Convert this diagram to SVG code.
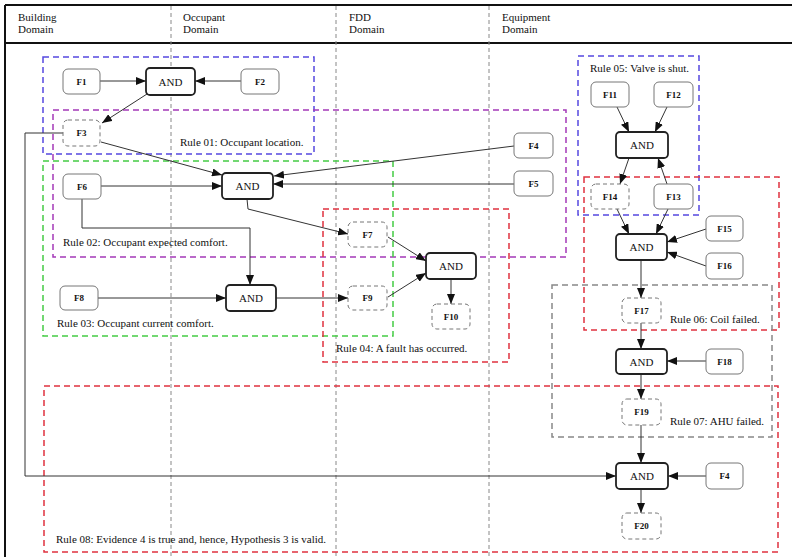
<svg xmlns="http://www.w3.org/2000/svg" width="792" height="557" viewBox="0 0 792 557">
<defs>
<marker id="arr" viewBox="0 0 10 8" refX="10" refY="4" markerWidth="10" markerHeight="8" markerUnits="userSpaceOnUse" orient="auto">
<path d="M0,0 L10,4 L0,8 z" fill="#111"/>
</marker>
</defs>
<style>
text{font-family:"Liberation Serif","Times New Roman",serif;fill:#111}
.hdr{font-size:11px}
.rl{font-size:11px}
.fl{font-size:9px;font-weight:bold;text-anchor:middle}
.al{font-size:11px;text-anchor:middle}
.fact{fill:#fff;stroke:#777;stroke-width:1}
.der{fill:#fff;stroke:#777;stroke-width:1;stroke-dasharray:4 3}
.and{fill:#fff;stroke:#222;stroke-width:1.8}
.lane{stroke:#888;stroke-width:1;stroke-dasharray:4 3;fill:none}
.rule{fill:none;stroke-width:1.5;stroke-dasharray:6 4}
.blue{stroke:#5548e0}
.purple{stroke:#a438b8}
.green{stroke:#44cc44}
.red{stroke:#e0323f}
.gray{stroke:#888}
.cn{fill:none;stroke:#333;stroke-width:1;marker-end:url(#arr)}
.cp{fill:none;stroke:#333;stroke-width:1}
</style>
<rect x="0" y="0" width="792" height="557" fill="#fff"/>
<g id="frame">
<line x1="5" y1="5" x2="792" y2="5" stroke="#111" stroke-width="2"/>
<line x1="5" y1="43" x2="792" y2="43" stroke="#111" stroke-width="2"/>
<line x1="5" y1="5" x2="5" y2="557" stroke="#111" stroke-width="2"/>
<line class="lane" x1="171" y1="6" x2="171" y2="557"/>
<line class="lane" x1="336" y1="6" x2="336" y2="557"/>
<line class="lane" x1="489" y1="6" x2="489" y2="557"/>
<text class="hdr" x="18" y="21">Building</text>
<text class="hdr" x="18" y="33">Domain</text>
<text class="hdr" x="183" y="21">Occupant</text>
<text class="hdr" x="183" y="33">Domain</text>
<text class="hdr" x="349" y="21">FDD</text>
<text class="hdr" x="349" y="33">Domain</text>
<text class="hdr" x="502" y="21">Equipment</text>
<text class="hdr" x="502" y="33">Domain</text>
</g>
<g id="rules">
<rect class="rule blue" x="43" y="57" width="271" height="97"/>
<rect class="rule purple" x="53" y="110" width="513" height="147"/>
<rect class="rule green" x="43" y="161" width="350" height="175"/>
<rect class="rule red" x="323" y="209" width="186" height="153"/>
<rect class="rule blue" x="578" y="56" width="121" height="159"/>
<rect class="rule red" x="584" y="177" width="195" height="153"/>
<rect class="rule gray" x="552" y="285" width="220" height="152"/>
<rect class="rule red" x="44" y="386" width="734" height="166"/>
<text class="rl" x="180" y="146">Rule 01: Occupant location.</text>
<text class="rl" x="63" y="246">Rule 02: Occupant expected comfort.</text>
<text class="rl" x="57" y="327">Rule 03: Occupant current comfort.</text>
<text class="rl" x="336" y="352">Rule 04: A fault has occurred.</text>
<text class="rl" x="590" y="72">Rule 05: Valve is shut.</text>
<text class="rl" x="670" y="323">Rule 06: Coil failed.</text>
<text class="rl" x="670" y="425">Rule 07: AHU failed.</text>
<text class="rl" x="56" y="543">Rule 08: Evidence 4 is true and, hence, Hypothesis 3 is valid.</text>
</g>
<g id="connectors">
<line class="cn" x1="100" y1="81" x2="146" y2="81"/>
<line class="cn" x1="241" y1="81" x2="195" y2="81"/>
<line class="cn" x1="147" y1="94" x2="102" y2="123"/>
<line class="cn" x1="101" y1="142" x2="222" y2="175"/>
<line class="cn" x1="514" y1="146" x2="274" y2="176"/>
<line class="cn" x1="514" y1="184" x2="273" y2="184"/>
<line class="cn" x1="101" y1="186" x2="222" y2="186"/>
<polyline class="cn" points="247,199 248,209 348,234"/>
<polyline class="cn" points="82,199 82,228 250,228 250,285"/>
<line class="cn" x1="98" y1="298" x2="226" y2="298"/>
<line class="cn" x1="276" y1="298" x2="348" y2="298"/>
<line class="cn" x1="388" y1="237" x2="426" y2="261"/>
<line class="cn" x1="388" y1="297" x2="426" y2="273"/>
<line class="cn" x1="451" y1="279" x2="451" y2="304"/>
<line class="cn" x1="617" y1="107" x2="629" y2="132"/>
<line class="cn" x1="667" y1="107" x2="655" y2="132"/>
<line class="cn" x1="629" y1="158" x2="620" y2="184"/>
<line class="cn" x1="667" y1="184" x2="658" y2="158"/>
<line class="cn" x1="617" y1="209" x2="629" y2="234"/>
<line class="cn" x1="668" y1="209" x2="656" y2="234"/>
<line class="cn" x1="706" y1="229" x2="667" y2="242"/>
<line class="cn" x1="706" y1="266" x2="667" y2="252"/>
<line class="cn" x1="641" y1="260" x2="641" y2="298"/>
<line class="cn" x1="641" y1="323" x2="641" y2="349"/>
<line class="cn" x1="706" y1="361" x2="667" y2="361"/>
<line class="cn" x1="641" y1="374" x2="641" y2="399"/>
<line class="cn" x1="641" y1="425" x2="641" y2="463"/>
<line class="cn" x1="706" y1="476" x2="668" y2="476"/>
<line class="cn" x1="641" y1="489" x2="641" y2="513"/>
<polyline class="cn" points="63,133 25,133 25,476 616,476"/>
</g>
<g id="F1"><rect class="fact" x="63" y="69" width="37" height="25" rx="5"/><text class="fl" x="81.5" y="84.5">F1</text></g>
<g id="AND1"><rect class="and" x="146" y="68" width="49" height="27" rx="4"/><text class="al" x="170.5" y="85.5">AND</text></g>
<g id="F2"><rect class="fact" x="241" y="69" width="38" height="25" rx="5"/><text class="fl" x="260" y="84.5">F2</text></g>
<g id="F3"><rect class="der" x="63" y="120" width="37" height="26" rx="5"/><text class="fl" x="81.5" y="136">F3</text></g>
<g id="F4a"><rect class="fact" x="514" y="133" width="39" height="25" rx="5"/><text class="fl" x="533.5" y="148.5">F4</text></g>
<g id="F5"><rect class="fact" x="514" y="171" width="39" height="25" rx="5"/><text class="fl" x="533.5" y="186.5">F5</text></g>
<g id="F6"><rect class="fact" x="63" y="174" width="38" height="25" rx="5"/><text class="fl" x="82" y="189.5">F6</text></g>
<g id="AND2"><rect class="and" x="222" y="173" width="51" height="26" rx="4"/><text class="al" x="247.5" y="190">AND</text></g>
<g id="F7"><rect class="der" x="348" y="222" width="39" height="25" rx="5"/><text class="fl" x="367.5" y="237.5">F7</text></g>
<g id="F8"><rect class="fact" x="60" y="286" width="38" height="24" rx="5"/><text class="fl" x="79" y="301">F8</text></g>
<g id="AND3"><rect class="and" x="226" y="285" width="50" height="26" rx="4"/><text class="al" x="251" y="302">AND</text></g>
<g id="F9"><rect class="der" x="348" y="286" width="39" height="24" rx="5"/><text class="fl" x="367.5" y="301">F9</text></g>
<g id="AND4"><rect class="and" x="426" y="253" width="50" height="26" rx="4"/><text class="al" x="451" y="270">AND</text></g>
<g id="F10"><rect class="der" x="432" y="304" width="38" height="25" rx="5"/><text class="fl" x="451" y="319.5">F10</text></g>
<g id="F11"><rect class="fact" x="591" y="82" width="38" height="25" rx="5"/><text class="fl" x="610" y="97.5">F11</text></g>
<g id="F12"><rect class="fact" x="654" y="82" width="39" height="25" rx="5"/><text class="fl" x="673.5" y="97.5">F12</text></g>
<g id="AND5"><rect class="and" x="616" y="132" width="52" height="26" rx="4"/><text class="al" x="642" y="149">AND</text></g>
<g id="F14"><rect class="der" x="591" y="184" width="38" height="25" rx="5"/><text class="fl" x="610" y="199.5">F14</text></g>
<g id="F13"><rect class="fact" x="654" y="184" width="39" height="25" rx="5"/><text class="fl" x="673.5" y="199.5">F13</text></g>
<g id="AND6"><rect class="and" x="616" y="234" width="51" height="26" rx="4"/><text class="al" x="641.5" y="251">AND</text></g>
<g id="F15"><rect class="fact" x="706" y="216" width="37" height="25" rx="5"/><text class="fl" x="724.5" y="231.5">F15</text></g>
<g id="F16"><rect class="fact" x="706" y="253" width="37" height="26" rx="5"/><text class="fl" x="724.5" y="269">F16</text></g>
<g id="F17"><rect class="der" x="622" y="298" width="39" height="25" rx="5"/><text class="fl" x="641.5" y="313.5">F17</text></g>
<g id="AND7"><rect class="and" x="616" y="349" width="51" height="25" rx="4"/><text class="al" x="641.5" y="365.5">AND</text></g>
<g id="F18"><rect class="fact" x="706" y="349" width="37" height="25" rx="5"/><text class="fl" x="724.5" y="364.5">F18</text></g>
<g id="F19"><rect class="der" x="622" y="399" width="39" height="26" rx="5"/><text class="fl" x="641.5" y="415">F19</text></g>
<g id="AND8"><rect class="and" x="616" y="463" width="52" height="26" rx="4"/><text class="al" x="642" y="480">AND</text></g>
<g id="F4b"><rect class="fact" x="706" y="463" width="37" height="26" rx="5"/><text class="fl" x="724.5" y="479">F4</text></g>
<g id="F20"><rect class="der" x="622" y="513" width="39" height="26" rx="5"/><text class="fl" x="641.5" y="529">F20</text></g>
</svg>
